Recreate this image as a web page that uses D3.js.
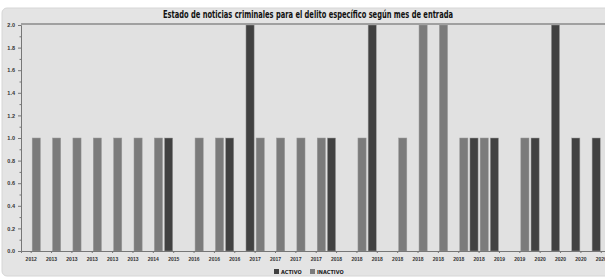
<!DOCTYPE html>
<html>
<head>
<meta charset="utf-8">
<script src="https://cdn.jsdelivr.net/npm/d3@7"></script>
<style>
  body { margin: 0; background: #fff; }
  svg { display: block; font-family: "Liberation Sans Narrow", "DejaVu Sans Condensed", sans-serif; }
</style>
</head>
<body>
<div id="chart"></div>
<script>
let width = 605, height = 277;

// month-of-entry categories (year labels as printed)
let categories = ["2012","2013","2013","2013","2013","2013","2014","2015","2016","2016","2016",
    "2017","2017","2017","2017","2018","2018","2018","2018","2018","2018","2018","2018",
    "2019","2019","2020","2020","2020","2020"];
let series = ["ACTIVO", "INACTIVO"];
let activo   = [0,0,0,0,0,0,0,1,0,0,1,2,0,0,0,1,0,2,0,0,0,0,1,1,0,1,2,1,1];
let inactivo = [1,1,1,1,1,1,1,0,1,1,0,1,1,1,1,0,1,0,1,2,2,1,1,0,1,0,0,0,0];
let yTicks = [0,0.2,0.4,0.6,0.8,1.0,1.2,1.4,1.6,1.8,2.0];

let color = d3.scaleOrdinal().domain(series).range(["#414141", "#7b7b7b"]);

let margin = {top: 24, left: 21, bottom: 25};
let step = 20.36;
let plotRight = margin.left + categories.length * step;

let svg = d3.select("#chart").append("svg")
    .attr("width", width)
    .attr("height", height);

// outer chart panel
svg.append("rect")
    .attr("x", 2).attr("y", 8)
    .attr("width", width + 20).attr("height", height - 9)
    .attr("rx", 5)
    .style("fill", "#e4e4e4")
    .style("stroke", "#d6d6d6");

let x0 = d3.scaleBand()
    .domain(d3.range(categories.length))
    .range([margin.left, plotRight])
    .paddingInner(0.1)
    .paddingOuter(0.05);

let x1 = d3.scaleBand()
    .domain(series)
    .range([0, x0.bandwidth()])
    .paddingInner(0.2);

let y = d3.scaleLinear()
    .domain([0, 2])
    .range([height - margin.bottom - 1, margin.top + 1]);

// plot background
svg.append("rect")
    .attr("x", margin.left).attr("y", margin.top)
    .attr("width", plotRight - margin.left)
    .attr("height", y(0) - margin.top)
    .style("fill", "#e1e1e1");

svg.append("line")
    .attr("x1", margin.left).attr("x2", plotRight)
    .attr("y1", margin.top).attr("y2", margin.top)
    .style("stroke", "#8a8a8a").style("stroke-width", 1.5);

// bars
let rows = categories.map(function(c, i) { return {i: i, ACTIVO: activo[i], INACTIVO: inactivo[i]}; });

svg.append("g")
    .selectAll("g")
    .data(rows)
    .enter().append("g")
    .attr("transform", function(d) { return "translate(" + x0(d.i) + ",0)"; })
    .selectAll("rect")
    .data(function(d) { return series.map(function(s) { return {key: s, value: d[s]}; }); })
    .enter().append("rect")
    .filter(function(d) { return d.value > 0; })
    .attr("x", function(d) { return x1(d.key); })
    .attr("width", x1.bandwidth())
    .attr("y", function(d) { return y(d.value); })
    .attr("height", function(d) { return y(0) - y(d.value); })
    .style("fill", function(d) { return color(d.key); })
    .style("stroke", "#9a9a9a")
    .style("stroke-width", 0.5);

// y axis
let yAxis = svg.append("g")
    .attr("transform", "translate(" + margin.left + ",0)")
    .call(d3.axisLeft(y).tickValues(yTicks).tickSize(3).tickFormat(d3.format(".1f")));
svg.append("g")
    .attr("transform", "translate(" + margin.left + ",0)")
    .call(d3.axisLeft(y).tickValues(d3.range(0.1, 2, 0.2)).tickSize(1.5).tickFormat(""))
    .select(".domain").remove();

yAxis.selectAll("text")
    .style("font-size", "5.5px").style("font-weight", "bold").style("fill", "#333");
svg.selectAll(".tick line").style("stroke", "#777");
yAxis.select(".domain").style("stroke", "#777");

// x axis
let xAxis = svg.append("g")
    .attr("transform", "translate(0," + y(0) + ")")
    .call(d3.axisBottom(x0).tickSize(2).tickPadding(4).tickFormat(function(i) { return categories[i]; }));
xAxis.select(".domain").style("stroke", "#777");
xAxis.selectAll(".tick line").style("stroke", "#777");
xAxis.selectAll("text")
    .style("font-size", "5px").style("font-weight", "bold").style("fill", "#333");

// title
svg.append("text")
    .attr("x", 308).attr("y", 18)
    .attr("text-anchor", "middle")
    .attr("textLength", 290)
    .attr("lengthAdjust", "spacingAndGlyphs")
    .style("font-size", "10px").style("font-weight", "bold")
    .style("fill", "#111")
    .text("Estado de noticias criminales para el delito específico según mes de entrada");

// legend
let legend = svg.append("g")
    .selectAll("g")
    .data(series)
    .enter().append("g")
    .attr("transform", function(d, i) { return "translate(" + (274 + i * 36) + ",269)"; });

legend.append("rect")
    .attr("width", 5).attr("height", 5)
    .style("fill", function(d) { return color(d); });

legend.append("text")
    .attr("x", 7).attr("y", 4.6)
    .style("font-size", "5.5px").style("font-weight", "bold").style("fill", "#222")
    .text(function(d) { return d; });
</script>
</body>
</html>
